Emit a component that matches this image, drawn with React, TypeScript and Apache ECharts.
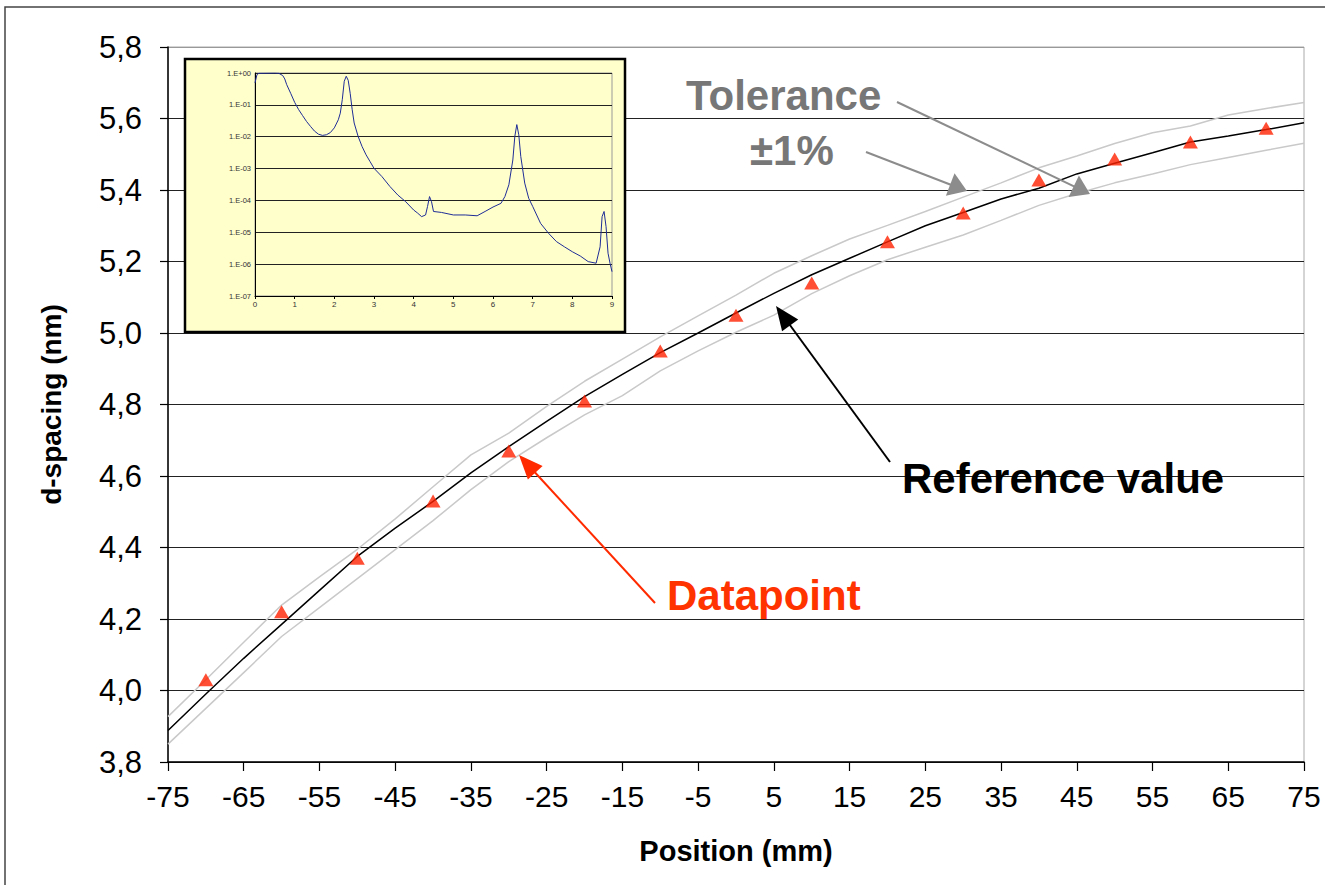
import React, { useEffect, useRef } from "react";
import * as echarts from "echarts";

// ---- main chart data (mm, nm) ----
const positions = [-75, -70, -65, -60, -55, -50, -45, -40, -35, -30, -25, -20, -15, -10, -5, 0, 5, 10, 15, 20, 25, 30, 35, 40, 45, 50, 55, 60, 65, 70, 75];
const referenceValues = [3.888, 3.99, 4.09, 4.185, 4.28, 4.375, 4.454, 4.529, 4.609, 4.682, 4.753, 4.822, 4.884, 4.945, 5.0, 5.056, 5.111, 5.163, 5.209, 5.255, 5.3, 5.337, 5.375, 5.405, 5.445, 5.475, 5.504, 5.534, 5.551, 5.569, 5.588];
const upperTolerance = [3.927, 4.03, 4.135, 4.239, 4.318, 4.395, 4.48, 4.57, 4.659, 4.72, 4.795, 4.865, 4.927, 4.989, 5.048, 5.106, 5.167, 5.216, 5.263, 5.301, 5.34, 5.38, 5.42, 5.462, 5.495, 5.53, 5.56, 5.579, 5.61, 5.628, 5.645];
const lowerTolerance = [3.85, 3.95, 4.05, 4.151, 4.232, 4.313, 4.394, 4.475, 4.562, 4.64, 4.707, 4.771, 4.825, 4.894, 4.95, 5.002, 5.05, 5.11, 5.16, 5.205, 5.24, 5.274, 5.315, 5.357, 5.39, 5.42, 5.445, 5.471, 5.491, 5.511, 5.531];
const dataPositions = [-70, -60, -50, -40, -30, -20, -10, 0, 10, 20, 30, 40, 50, 60, 70];
const dataValues = [4.03, 4.22, 4.37, 4.53, 4.67, 4.81, 4.95, 5.05, 5.14, 5.255, 5.336, 5.428, 5.487, 5.534, 5.573];

// ---- inset data (log intensity profile) ----
const insetX = [0, 0.05, 0.1, 0.5, 0.6, 0.7, 0.75, 0.8, 0.9, 1.0, 1.1, 1.2, 1.3, 1.4, 1.5, 1.6, 1.7, 1.8, 1.9, 2.0, 2.1, 2.15, 2.2, 2.25, 2.3, 2.35, 2.4, 2.45, 2.5, 2.6, 2.7, 2.8, 2.9, 3.0, 3.2, 3.4, 3.6, 3.8, 4.0, 4.1, 4.2, 4.3, 4.35, 4.4, 4.45, 4.5, 4.7, 5.0, 5.3, 5.6, 5.8, 6.0, 6.2, 6.3, 6.4, 6.5, 6.55, 6.6, 6.65, 6.7, 6.8, 6.9, 7.0, 7.2, 7.4, 7.6, 7.8, 8.0, 8.2, 8.4, 8.6, 8.7, 8.75, 8.8, 8.85, 8.9, 8.95, 9.0];
const insetY = [0.49, 0.89, 0.98, 1.0, 0.98, 0.83, 0.65, 0.43, 0.23, 0.12, 0.071, 0.046, 0.03, 0.021, 0.015, 0.012, 0.011, 0.0115, 0.0135, 0.019, 0.034, 0.055, 0.145, 0.55, 0.79, 0.59, 0.23, 0.071, 0.027, 0.0102, 0.0049, 0.0027, 0.00166, 0.00102, 5.6e-4, 2.75e-4, 1.48e-4, 9.1e-5, 5.0e-5, 4.0e-5, 3.1e-5, 3.5e-5, 6.5e-5, 1.32e-4, 9.1e-5, 4.5e-5, 4.2e-5, 3.5e-5, 3.5e-5, 3.3e-5, 4.5e-5, 6.2e-5, 8.1e-5, 1.32e-4, 3.1e-4, 1.86e-3, 0.0102, 0.024, 0.0115, 0.0024, 3.5e-4, 1.17e-4, 6.5e-5, 1.9e-5, 9.3e-6, 5.1e-6, 3.5e-6, 2.45e-6, 1.8e-6, 1.2e-6, 1.07e-6, 3.5e-6, 3.1e-5, 4.5e-5, 1.5e-5, 2.2e-6, 1.07e-6, 5.8e-7];

const FONT = "'Liberation Sans', Arial, sans-serif";

function arrow(x1: number, y1: number, x2: number, y2: number, color: string, lw: number, hl: number, hw: number) {
  const dx = x2 - x1, dy = y2 - y1;
  const len = Math.hypot(dx, dy);
  const ux = dx / len, uy = dy / len;
  const bx = x2 - ux * hl, by = y2 - uy * hl;
  const px = -uy, py = ux;
  return [
    { type: "line", z: 20, shape: { x1, y1, x2: bx + ux * 2, y2: by + uy * 2 }, style: { stroke: color, lineWidth: lw } },
    {
      type: "polygon", z: 20,
      shape: { points: [[x2, y2], [bx + px * hw, by + py * hw], [bx - px * hw, by - py * hw]] },
      style: { fill: color },
    },
  ];
}

export default function App() {
  const ref = useRef<HTMLDivElement>(null);
  useEffect(() => {
    if (!ref.current) return;
    const chart = echarts.init(ref.current, undefined, { renderer: "svg" });
    const zip = (xs: number[], ys: number[]) => xs.map((x, i) => [x, ys[i]]);
    const ySplitColors = ["#222", "#222", "#222", "#222", "#222", "#222", "#222", "#222", "#222", "#222", "#999"];
    const option: any = {
      animation: false,
      backgroundColor: "#fff",
      grid: [
        { left: 168, right: 21, top: 47, bottom: 123, show: true, borderColor: "#aaa", borderWidth: 1, backgroundColor: "transparent" },
        { left: 255, right: 713, top: 73, bottom: 589, show: true, borderColor: "#999", borderWidth: 1, backgroundColor: "transparent", z: 11 },
      ],
      xAxis: [
        {
          type: "value", gridIndex: 0, min: -75, max: 75, interval: 10,
          name: "Position (mm)", nameLocation: "middle", nameGap: 74,
          nameTextStyle: { fontFamily: FONT, fontSize: 29, fontWeight: "bold", color: "#000" },
          axisLine: { onZero: false, lineStyle: { color: "#000", width: 1.5 } },
          axisTick: { show: true, length: 9, lineStyle: { color: "#000", width: 1.2 } },
          axisLabel: { fontFamily: FONT, fontSize: 30, color: "#000", margin: 19 },
          splitLine: { show: false },
        },
        {
          type: "value", gridIndex: 1, min: 0, max: 9, interval: 1, z: 11,
          axisLine: { onZero: false, lineStyle: { color: "#000", width: 1 } },
          axisTick: { show: true, length: 3, lineStyle: { color: "#000" } },
          axisLabel: { fontFamily: FONT, fontSize: 8, color: "#333", margin: 4 },
          splitLine: { show: false },
        },
      ],
      yAxis: [
        {
          type: "value", gridIndex: 0, min: 3.8, max: 5.8, interval: 0.2,
          name: "d-spacing (nm)", nameLocation: "middle", nameGap: 103, nameRotate: 90,
          nameTextStyle: { fontFamily: FONT, fontSize: 28, fontWeight: "bold", color: "#000" },
          axisLine: { show: true, onZero: false, lineStyle: { color: "#000", width: 1.5 } },
          axisTick: { show: true, length: 8, lineStyle: { color: "#000", width: 1.2 } },
          axisLabel: {
            fontFamily: FONT, fontSize: 31, color: "#000", margin: 26,
            formatter: (v: number) => v.toFixed(1).replace(".", ","),
          },
          splitLine: { show: true, lineStyle: { color: ySplitColors, width: 1.2 } },
        },
        {
          type: "log", gridIndex: 1, logBase: 10, min: 1e-7, max: 1, splitNumber: 7, z: 11,
          axisLine: { show: true, onZero: false, lineStyle: { color: "#000", width: 1 } },
          axisTick: { show: false },
          axisLabel: {
            fontFamily: FONT, fontSize: 7.5, color: "#333", margin: 4,
            formatter: (v: number) => {
              const e = Math.round(Math.log10(v));
              return "1.E" + (e >= 0 ? "+" : "-") + String(Math.abs(e)).padStart(2, "0");
            },
          },
          splitLine: { show: true, lineStyle: { color: "#222", width: 1 } },
        },
      ],
      series: [
        {
          type: "line", name: "upper", xAxisIndex: 0, yAxisIndex: 0, z: 2,
          data: zip(positions, upperTolerance), showSymbol: false, symbol: "none",
          lineStyle: { color: "#c9c9c9", width: 1.5 },
        },
        {
          type: "line", name: "lower", xAxisIndex: 0, yAxisIndex: 0, z: 2,
          data: zip(positions, lowerTolerance), showSymbol: false, symbol: "none",
          lineStyle: { color: "#c9c9c9", width: 1.5 },
        },
        {
          type: "line", name: "reference", xAxisIndex: 0, yAxisIndex: 0, z: 3,
          data: zip(positions, referenceValues), showSymbol: false, symbol: "none",
          lineStyle: { color: "#000", width: 1.5 },
        },
        {
          type: "scatter", name: "datapoints", xAxisIndex: 0, yAxisIndex: 0, z: 4,
          data: zip(dataPositions, dataValues), symbol: "triangle", symbolSize: [15, 13],
          itemStyle: { color: "#ff2200" },
        },
        {
          type: "line", name: "inset", xAxisIndex: 1, yAxisIndex: 1, z: 12,
          data: zip(insetX, insetY), showSymbol: false, symbol: "none",
          lineStyle: { color: "#1f2d96", width: 1 },
        },
      ],
      graphic: [
        { type: "rect", z: 10, shape: { x: 185, y: 59, width: 440, height: 273 }, style: { fill: "#ffffcc", stroke: "#000", lineWidth: 2.5 } },
        { type: "rect", z: 30, shape: { x: 5, y: 7, width: 1340, height: 900 }, style: { fill: "none", stroke: "#444", lineWidth: 1.5 } },
        { type: "text", z: 20, x: 686, y: 95, style: { text: "Tolerance", font: `bold 42px ${FONT}`, fill: "#777", textAlign: "left", textVerticalAlign: "middle" } },
        { type: "text", z: 20, x: 750, y: 150, style: { text: "±1%", font: `bold 42px ${FONT}`, fill: "#777", textAlign: "left", textVerticalAlign: "middle" } },
        { type: "text", z: 20, x: 902, y: 478, style: { text: "Reference value", font: `bold 42px ${FONT}`, fill: "#000", textAlign: "left", textVerticalAlign: "middle" } },
        { type: "text", z: 20, x: 667, y: 595, style: { text: "Datapoint", font: `bold 42px ${FONT}`, fill: "#ff3300", textAlign: "left", textVerticalAlign: "middle" } },
        ...arrow(897, 102, 1090, 194, "#8c8c8c", 2, 18, 12),
        ...arrow(866, 152, 967, 191, "#8c8c8c", 2, 18, 12),
        ...arrow(890, 462, 776, 306, "#000", 2, 24, 10),
        ...arrow(655, 603, 519, 455, "#ff2a00", 2, 24, 10),
      ],
    };
    chart.setOption(option);
    return () => chart.dispose();
  }, []);
  return <div ref={ref} style={{ position: "absolute", left: 0, top: 0, width: 1325, height: 885 }} />;
}
